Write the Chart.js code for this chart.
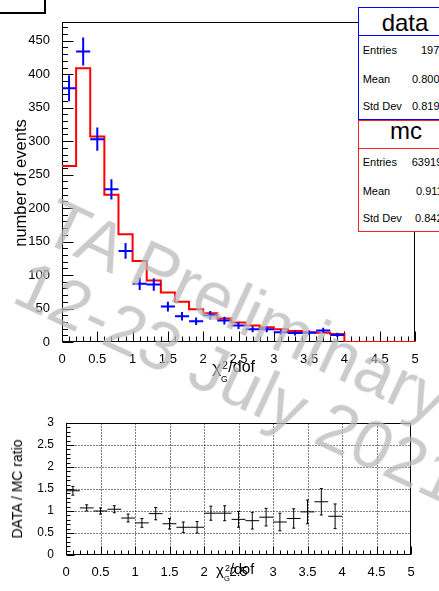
<!DOCTYPE html>
<html><head><meta charset="utf-8">
<script src="https://cdn.jsdelivr.net/npm/chart.js@4.4.1/dist/chart.umd.min.js"></script>
<style>
html,body{margin:0;padding:0;background:#fff;}
body{width:439px;height:591px;overflow:hidden;position:relative;font-family:"Liberation Sans",Arial,Helvetica,sans-serif;}
canvas{position:absolute;left:0;}
.t{position:absolute;white-space:nowrap;line-height:1;color:#000;}
.box{position:absolute;box-sizing:border-box;background:#fff;}
.rot{position:absolute;white-space:nowrap;line-height:1;transform:translate(-50%,-50%) rotate(-90deg);color:#000;}
.wm{position:absolute;left:62.5px;top:187px;transform:rotate(25deg);transform-origin:0 0;font-size:68px;line-height:68px;white-space:pre;color:rgba(185,185,185,0.75);pointer-events:none;}
</style></head><body>
<canvas id="top" width="439" height="380" style="top:0"></canvas>
<canvas id="bot" width="439" height="211" style="top:380px"></canvas>
<div id="overlay"></div>
<script>
// ---------- data ----------
const binEdges = [0,0.2,0.4,0.6,0.8,1.0,1.2,1.4,1.6,1.8,2.0,2.2,2.4,2.6,2.8,3.0,3.2,3.4,3.6,3.8,4.0,4.2,4.4,4.6,4.8];
const histUpper = 5;
const binHalfWidth = 0.1;
const mcCounts = [263,409,307,220,161,121,92,74,60,49,43,35,29,24.5,22,19,16.5,14.5,14,12,0,0,0,0,0];
const dataCounts = [379,434,303,228,136,87,86,53,38.5,31,40,32,24.5,19,19,14.5,13.5,14,17,10.5];
const dataErrors = [19.5,20.8,17.4,15.1,11.7,9.3,9.3,7.3,6.2,5.6,6.3,5.7,4.9,4.4,4.4,3.8,3.7,3.7,4.1,3.2];
const ratioValues = [1.46,1.07,1.00,1.04,0.84,0.73,0.94,0.71,0.63,0.63,0.95,0.95,0.81,0.78,0.86,0.75,0.83,0.98,1.21,0.88];
const ratioErrors = [0.10,0.07,0.07,0.08,0.09,0.10,0.14,0.12,0.12,0.13,0.16,0.17,0.18,0.19,0.20,0.20,0.22,0.27,0.30,0.28];
const xTickLabels = ['0','0.5','1','1.5','2','2.5','3','3.5','4','4.5','5'];
const yTickLabels = ['0','50','100','150','200','250','300','350','400','450'];
const ratioTickLabels = ['0','0.5','1','1.5','2','2.5','3'];
const statsData = [['Entries','1971'],['Mean','0.8003'],['Std Dev','0.8192']];
const statsMC = [['Entries','63919'],['Mean','0.9113'],['Std Dev','0.8421']];

const FONT = '"Liberation Sans", Arial, Helvetica, sans-serif';

// ---------- plugins ----------
function framePlugin(c){
  return {id:'frame_'+c.name, beforeDatasetsDraw(chart){
    const {ctx, chartArea:a, scales:{x,y}} = chart;
    ctx.save();
    const L=Math.round(a.left)+0.5, R=Math.round(a.right)-0.5, T=Math.round(a.top)+0.5, B=Math.round(a.bottom)-0.5;
    ctx.strokeStyle='#000'; ctx.lineWidth=1;
    if(c.grid){
      ctx.setLineDash([1,2]); ctx.beginPath();
      for(let i=1;i*c.xMajor<x.max-1e-9;i++){const px=Math.round(x.getPixelForValue(i*c.xMajor))+0.5;ctx.moveTo(px,T);ctx.lineTo(px,B);}
      for(let i=1;i*c.yMajor<y.max-1e-9;i++){const py=Math.round(y.getPixelForValue(i*c.yMajor))+0.5;ctx.moveTo(L,py);ctx.lineTo(R,py);}
      ctx.stroke(); ctx.setLineDash([]);
    }
    ctx.beginPath();
    const nx=Math.round((x.max-x.min)/c.xMinor);
    for(let i=0;i<=nx;i++){
      const v=x.min+i*c.xMinor; const r=v/c.xMajor; const major=Math.abs(r-Math.round(r))<1e-6;
      const px=Math.round(x.getPixelForValue(v))+0.5; ctx.moveTo(px,B); ctx.lineTo(px,B-(major?c.xMajLen:c.xMinLen));
    }
    const ny=Math.floor((y.max-y.min)/c.yMinor+1e-6);
    for(let i=0;i<=ny;i++){
      const v=y.min+i*c.yMinor; const r=v/c.yMajor; const major=Math.abs(r-Math.round(r))<1e-6;
      const py=Math.round(y.getPixelForValue(v))+0.5; ctx.moveTo(L,py); ctx.lineTo(L+(major?c.yMajLen:c.yMinLen),py);
    }
    ctx.stroke();
    ctx.strokeRect(L,T,R-L,B-T);
    ctx.restore();
  }};
}
function crossPlugin(c){
  return {id:'cross_'+c.name, afterDatasetsDraw(chart){
    const {ctx, scales:{x,y}} = chart;
    ctx.save(); ctx.strokeStyle=c.color; ctx.lineWidth=c.width; ctx.beginPath();
    c.values.forEach((v,i)=>{
      const cx=binEdges[i]+binHalfWidth;
      const px=x.getPixelForValue(cx), py=y.getPixelForValue(v);
      const x0=x.getPixelForValue(cx-binHalfWidth), x1=x.getPixelForValue(cx+binHalfWidth);
      const y0=y.getPixelForValue(v-c.errors[i]), y1=y.getPixelForValue(v+c.errors[i]);
      ctx.moveTo(x0,py); ctx.lineTo(x1,py);
      ctx.moveTo(px,y0); ctx.lineTo(px,y1);
      if(c.cap){ctx.moveTo(px-c.cap,y0);ctx.lineTo(px+c.cap,y0);ctx.moveTo(px-c.cap,y1);ctx.lineTo(px+c.cap,y1);}
    });
    ctx.stroke(); ctx.restore();
  }};
}

function axisCfg(min,max,step,labels,size,fit,isX){
  return {type:'linear', min, max,
    grid:{display:false}, border:{display:false},
    ticks:{stepSize:step, includeBounds:false, autoSkip:false, maxRotation:0, padding:isX?2:4, color:'#000',
      font:{family:FONT,size}, callback:(v,i)=>labels[i]},
    afterFit:fit};
}

// ---------- top chart ----------
new Chart(document.getElementById('top'),{
  type:'scatter',
  data:{datasets:[
    {type:'line', data:binEdges.map((e,i)=>({x:e,y:mcCounts[i]})).concat([{x:histUpper,y:0}]),
     stepped:'before', borderColor:'#ff0000', borderWidth:2, pointRadius:0, fill:false},
    {type:'scatter', data:dataCounts.map((v,i)=>({x:binEdges[i]+binHalfWidth,y:v})), pointRadius:0}
  ]},
  options:{responsive:false, animation:false, devicePixelRatio:1,
    layout:{padding:{left:0,top:22,right:24,bottom:0}},
    plugins:{legend:{display:false}, tooltip:{enabled:false}},
    scales:{
      x:axisCfg(0,5,0.5,xTickLabels,13,s=>{s.height=38;},true),
      y:axisCfg(0,478,50,yTickLabels,13,s=>{s.width=62;},false)
    }},
  plugins:[framePlugin({name:'top',xMajor:0.5,xMinor:0.1,yMajor:50,yMinor:10,xMajLen:10,xMinLen:5,yMajLen:11,yMinLen:5.5,grid:false}),
           crossPlugin({name:'top',values:dataCounts,errors:dataErrors,color:'#0000ff',width:2,cap:0})]
});

// ---------- ratio chart ----------
new Chart(document.getElementById('bot'),{
  type:'scatter',
  data:{datasets:[{data:ratioValues.map((v,i)=>({x:binEdges[i]+binHalfWidth,y:v})), pointRadius:0}]},
  options:{responsive:false, animation:false, devicePixelRatio:1,
    layout:{padding:{left:0,top:43,right:28,bottom:0}},
    plugins:{legend:{display:false}, tooltip:{enabled:false}},
    scales:{
      x:axisCfg(0,5,0.5,xTickLabels,13,s=>{s.height=36;},true),
      y:axisCfg(0,3,0.5,ratioTickLabels,12,s=>{s.width=66;},false)
    }},
  plugins:[framePlugin({name:'bot',xMajor:0.5,xMinor:0.1,yMajor:0.5,yMinor:0.1,xMajLen:8,xMinLen:4,yMajLen:8,yMinLen:4,grid:true}),
           crossPlugin({name:'bot',values:ratioValues,errors:ratioErrors,color:'#000',width:1,cap:1.5})]
});

// ---------- overlay text ----------
const ov=document.getElementById('overlay');
function el(cls,css,text){const d=document.createElement('div');d.className=cls;d.style.cssText=css;if(text!==undefined)d.textContent=text;ov.appendChild(d);return d;}
function txt(s,x,base,size,extra){return el('t','left:'+x+'px;top:'+(base-0.8465*size)+'px;font-size:'+size+'px;'+(extra||''),s);}

// title pave (top-left)
el('box','left:-10px;top:-10px;width:55.5px;height:23.5px;border:2px solid #000;');

// stats boxes
el('box','left:358px;top:7px;width:100px;height:113px;border:1px solid #0000ff;');
el('box','left:358px;top:35px;width:100px;height:1px;background:#0000ff;');
el('box','left:358px;top:120px;width:100px;height:112px;border:1px solid #ff2020;');
el('box','left:358px;top:148px;width:100px;height:1px;background:#ff2020;');
txt('data',405,31.7,24,'transform:translateX(-50%);');
txt('mc',406,139.3,24,'transform:translateX(-50%);');
const dataRowBase=[54,83,110.7], mcRowBase=[166.7,195,222.7];
const dataValX=[421,412,412], mcValX=[411.7,416,415];
statsData.forEach((r,i)=>{txt(r[0],362.7,dataRowBase[i],11);txt(r[1],dataValX[i],dataRowBase[i],11);});
statsMC.forEach((r,i)=>{txt(r[0],362.7,mcRowBase[i],11);txt(r[1],mcValX[i],mcRowBase[i],11);});

// axis titles
el('rot','left:20px;top:183px;font-size:16.5px;','number of events');
el('rot','left:17px;top:489px;font-size:14px;','DATA / MC ratio');
txt('χ',212.3,373,17); txt('2',222.3,369,10); txt('G',221,381.7,8.5); txt('/dof',228.3,372.3,16);
txt('χ',216,574.3,15); txt('2',225,571.7,9); txt('G',224,581.7,7.5); txt('/dof',230,574.3,14.5);

// watermark
el('wm','','TA Preliminary\n12-23 July 2021');
</script>
</body></html>
